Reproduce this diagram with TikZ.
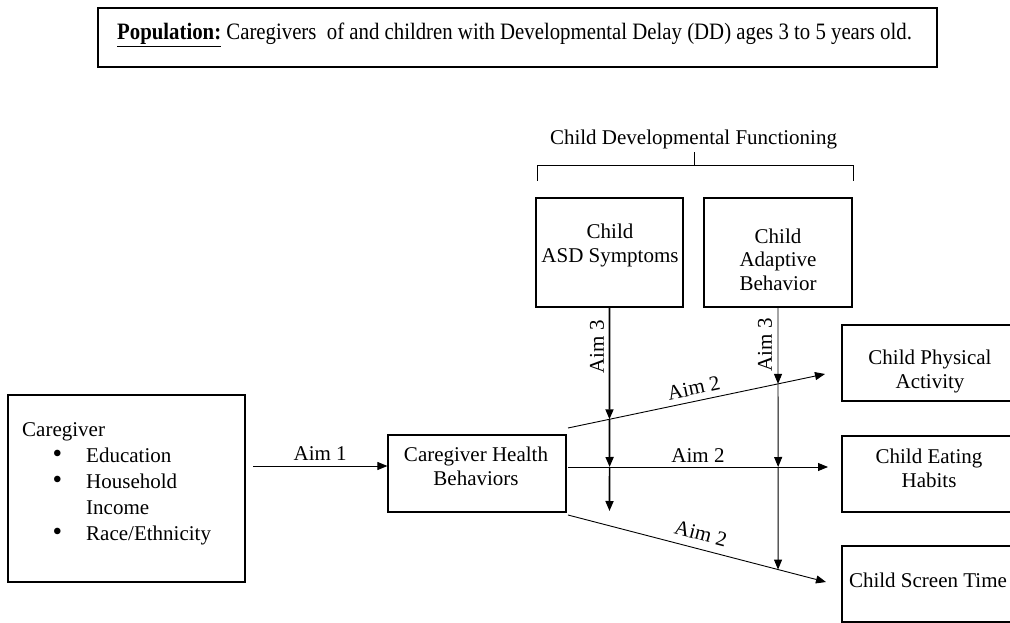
\documentclass[tikz,border=0pt]{standalone}
\usepackage{fontspec}
\setmainfont{Liberation Serif}
\usetikzlibrary{arrows.meta}
\newcommand{\bigbul}{\makebox[64pt][r]{\scalebox{1.3}{\textbullet}\hspace{24pt}}}
\begin{document}
\begin{tikzpicture}[x=1pt,y=-1pt,
  every node/.style={font=\fontsize{21}{23.5}\selectfont},
  box/.style={draw, line width=1.2pt, inner sep=0pt},
  txt/.style={align=center, inner sep=0pt, anchor=base},
  conn/.style={line width=0.9pt, -{Triangle[length=10pt,width=8pt]}},
  bold/.style={line width=1.7pt, -{Triangle[length=10pt,width=8pt]}},
  lbl/.style={inner sep=1pt}]
\useasboundingbox (0,0) rectangle (1010,623);

% population box
\node[box, minimum width=839pt, minimum height=59pt] (pop) at (517.5,37.5) {};
\node[anchor=base west, inner sep=0pt, font=\fontsize{23.5}{26}\selectfont] (popt) at (117,40)
  {\scalebox{0.885}[1]{\textbf{\underline{Population:}} Caregivers~ of and children with Developmental Delay (DD) ages 3 to 5 years old.}};

% bracket and title
\node[anchor=base] (cdf) at (693.5,145) {Child Developmental Functioning};
\coordinate (bl) at (537,181);
\coordinate (br) at (853,181);
\coordinate (bt) at (694,152);
\coordinate (bm) at (694,165);
\draw[line width=0.9pt] (bl) -- (bl |- bm) -- (br |- bm) -- (br);
\draw[line width=0.9pt] (bm) -- (bt);

% boxes
\node[box, minimum width=147pt, minimum height=109pt] (asd) at (609.5,252.5) {};
\node[txt] (asdt) at (610,262) {Child\\ASD Symptoms};
\node[box, minimum width=148pt, minimum height=109pt] (ad) at (778,252.5) {};
\node[txt] (adt) at (778,290) {Child\\Adaptive\\Behavior};
\node[box, minimum width=237pt, minimum height=187pt] (cg) at (126.5,488.5) {};
\node[anchor=base west, align=left, font=\fontsize{21}{26}\selectfont, inner sep=0pt] (cgt) at (22,540)
  {Caregiver\\
   \bigbul Education\\
   \bigbul Household\\
   \hspace*{64pt}Income\\
   \bigbul Race/Ethnicity};
\node[box, minimum width=178pt, minimum height=77pt] (chb) at (477,473.5) {};
\node[txt] (chbt) at (476,485) {Caregiver Health\\Behaviors};
\node[box, minimum width=174pt, minimum height=76pt] (pa) at (929,363) {};
\node[txt] (pat) at (930,388) {Child Physical\\Activity};
\node[box, minimum width=174pt, minimum height=76pt] (eh) at (929,474) {};
\node[txt] (eht) at (929,487) {Child Eating\\Habits};
\node[box, minimum width=174pt, minimum height=76pt] (st) at (929,584) {};
\node[txt] (stt) at (928,587) {Child Screen Time};

% coordinates
\coordinate (a1) at (253,466);
\coordinate (u1) at (568,428);
\coordinate (u2) at (825,374);
\coordinate (m1) at (568,467);
\coordinate (m2) at (828,467);
\coordinate (l1) at (568,515);
\coordinate (l2) at (826,582);
\coordinate (asdEnd) at (609.5,511);
\coordinate (adDown) at (778,600);
\coordinate (i1) at (intersection of asd.south--asdEnd and u1--u2);
\coordinate (i2) at (intersection of asd.south--asdEnd and m1--m2);
\coordinate (j1) at (intersection of ad.south--adDown and u1--u2);
\coordinate (j2) at (intersection of ad.south--adDown and m1--m2);
\coordinate (j3) at (intersection of ad.south--adDown and l1--l2);

% Aim 1
\draw[conn] (a1) -- node[above=4pt, lbl] (aim1) {Aim 1} (a1 -| chb.west);

% Aim 2
\draw[conn] (u1) -- node[sloped, above=5pt, lbl] (aim2a) {Aim 2} (u2);
\draw[conn] (m1) -- node[above=3pt, lbl] (aim2b) {Aim 2} (m2);
\draw[conn] (l1) -- node[sloped, above=7pt, lbl] (aim2c) {Aim 2} (l2);

% Aim 3
\draw[bold] (asd.south) -- (i1);
\draw[bold] (i1) -- (i2);
\draw[bold] (i2) -- (asdEnd);
\draw[conn] (ad.south) -- (j1);
\draw[conn] (j1) -- (j2);
\draw[conn] (j2) -- (j3);
\node[rotate=90, lbl] (aim3a) at (597,347) {Aim 3};
\node[rotate=90, lbl] (aim3b) at (765,345) {Aim 3};
\end{tikzpicture}
\end{document}
